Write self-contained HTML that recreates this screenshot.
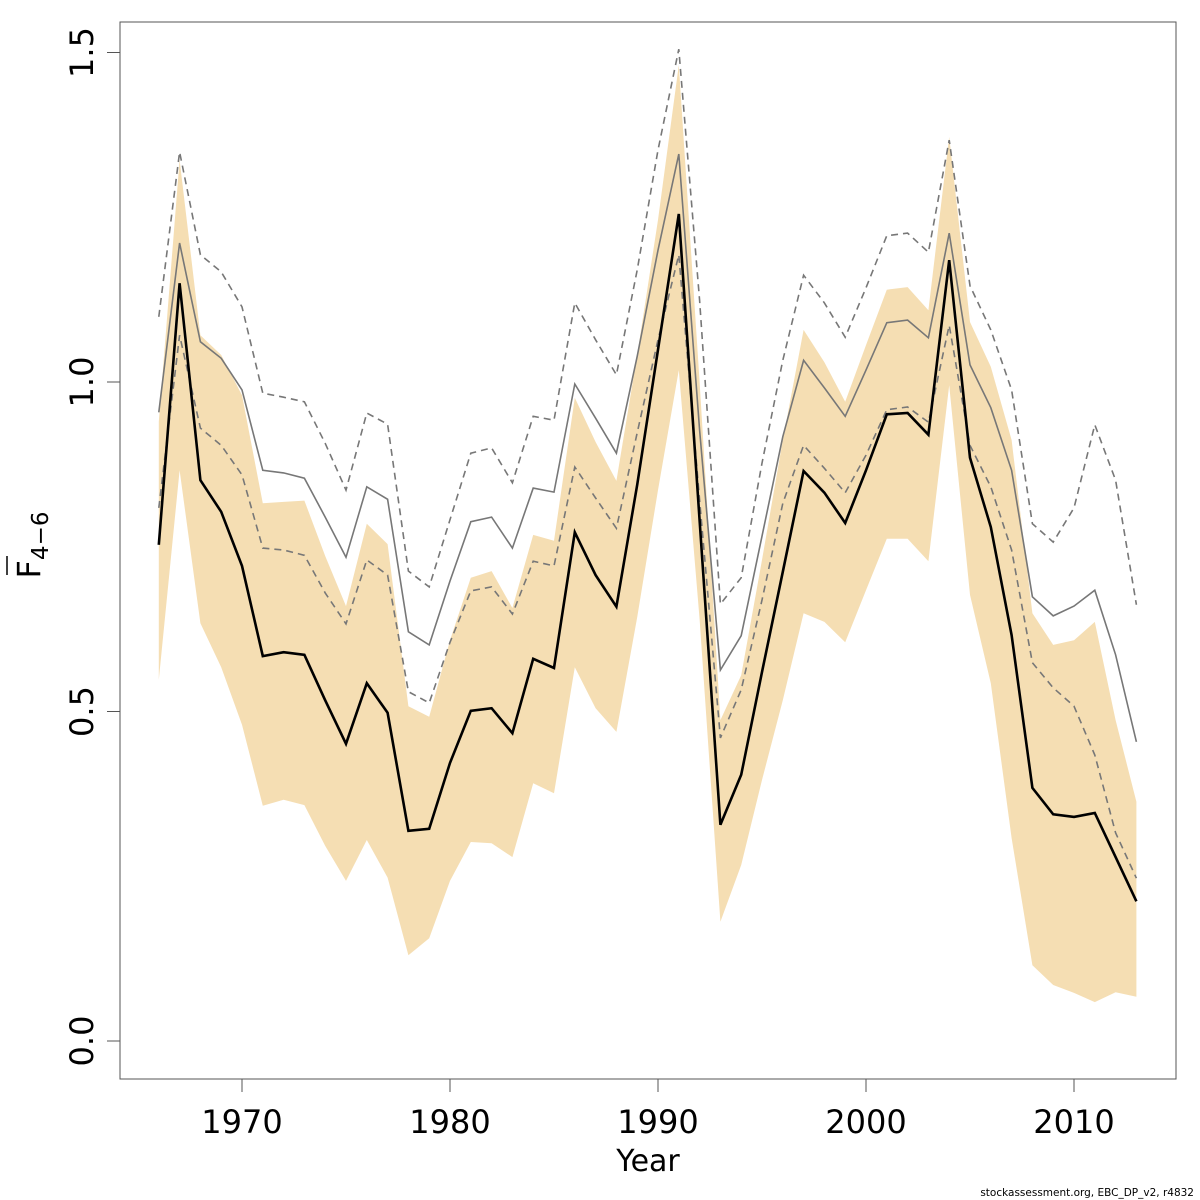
<!DOCTYPE html>
<html><head><meta charset="utf-8"><style>
html,body{margin:0;padding:0;background:#fff;}
svg{display:block;font-family:"DejaVu Sans","Liberation Sans",sans-serif;}
</style></head><body>
<svg id="chart" width="1200" height="1200" viewBox="0 0 1200 1200" xmlns="http://www.w3.org/2000/svg">
<rect x="0" y="0" width="1200" height="1200" fill="#fff"/>
<g id="marks"></g>
<rect x="120" y="22" width="1056" height="1057" fill="none" stroke="#555" stroke-width="1"/>
<g id="axes"></g>
<g transform="translate(40,545) rotate(-90)">
<text x="0" y="0" font-size="32" text-anchor="middle">F<tspan font-size="23" dy="8">4−6</tspan></text>
<line x1="-30" y1="-33" x2="-11" y2="-33" stroke="#000" stroke-width="1.5"/>
</g>
<text x="648" y="1171" font-size="30" text-anchor="middle">Year</text>
<text x="1194" y="1196" font-size="10.5" text-anchor="end">stockassessment.org, EBC_DP_v2, r4832</text>
</svg>
<script>
const years = [];
for (let y = 1966; y <= 2013; y++) years.push(y);
const estimate = [0.753,1.150,0.851,0.803,0.721,0.584,0.590,0.586,0.517,0.451,0.543,0.498,0.319,0.322,0.422,0.501,0.505,0.467,0.580,0.566,0.772,0.707,0.659,0.844,1.049,1.255,0.790,0.328,0.404,0.560,0.712,0.865,0.832,0.786,0.866,0.951,0.953,0.920,1.185,0.885,0.780,0.616,0.384,0.344,0.340,0.346,0.279,0.212];
const bandUpper = [0.940,1.337,1.071,1.041,0.980,0.816,0.818,0.820,0.736,0.660,0.785,0.754,0.508,0.492,0.608,0.703,0.713,0.657,0.768,0.759,0.976,0.909,0.850,1.041,1.246,1.481,1.000,0.487,0.555,0.730,0.912,1.079,1.030,0.970,1.056,1.140,1.144,1.109,1.372,1.091,1.023,0.912,0.649,0.601,0.608,0.636,0.487,0.363];
const bandLower = [0.548,0.866,0.634,0.567,0.480,0.357,0.366,0.358,0.296,0.243,0.305,0.248,0.130,0.156,0.243,0.302,0.300,0.279,0.391,0.376,0.567,0.505,0.469,0.643,0.836,1.018,0.640,0.181,0.267,0.396,0.517,0.649,0.636,0.605,0.684,0.762,0.762,0.728,0.995,0.677,0.543,0.308,0.115,0.085,0.073,0.059,0.074,0.067];
const compMid = [0.954,1.211,1.061,1.036,0.988,0.866,0.862,0.854,0.795,0.734,0.841,0.822,0.621,0.601,0.698,0.788,0.795,0.748,0.839,0.833,0.997,0.945,0.892,1.039,1.200,1.346,0.927,0.563,0.615,0.766,0.917,1.033,0.991,0.948,1.018,1.090,1.094,1.067,1.226,1.026,0.961,0.866,0.674,0.645,0.660,0.684,0.586,0.454];
const compUpper = [1.099,1.349,1.193,1.167,1.114,0.983,0.977,0.970,0.907,0.836,0.953,0.936,0.713,0.689,0.791,0.892,0.900,0.847,0.948,0.942,1.120,1.064,1.011,1.170,1.352,1.505,1.124,0.663,0.703,0.877,1.033,1.162,1.120,1.068,1.143,1.222,1.226,1.197,1.367,1.146,1.079,0.988,0.785,0.757,0.809,0.935,0.851,0.662];
const compLower = [0.809,1.071,0.930,0.904,0.859,0.748,0.745,0.737,0.680,0.633,0.730,0.707,0.530,0.513,0.605,0.683,0.689,0.648,0.728,0.721,0.871,0.824,0.778,0.923,1.064,1.193,0.821,0.460,0.533,0.669,0.816,0.904,0.869,0.832,0.889,0.958,0.962,0.939,1.086,0.904,0.841,0.745,0.574,0.536,0.508,0.434,0.316,0.247];
const xTicks = [1970,1980,1990,2000,2010];
const yTicks = [0.0,0.5,1.0,1.5];
const yTickLabels = ["0.0","0.5","1.0","1.5"];

function sx(yr){ return 242 + (yr-1970)*20.8; }
function sy(v){ return 1041 - v*659; }
const NS = "http://www.w3.org/2000/svg";
const marks = document.getElementById('marks');
const axes = document.getElementById('axes');
function mk(tag, attrs, parent){ const e = document.createElementNS(NS, tag); for (const k in attrs) e.setAttribute(k, attrs[k]); parent.appendChild(e); return e; }
function pts(arr){ return arr.map((v,i)=>sx(years[i]).toFixed(1)+','+sy(v).toFixed(1)).join(' '); }

const bandPts = years.map((y,i)=>sx(y).toFixed(1)+','+sy(bandUpper[i]).toFixed(1))
  .concat(years.slice().reverse().map((y,j)=>{const i=years.length-1-j;return sx(y).toFixed(1)+','+sy(bandLower[i]).toFixed(1);})).join(' ');
const band = mk('polygon', {points: bandPts, fill:'#f5deb3', stroke:'none'}, marks);



const lu = mk('polyline', {points: pts(compUpper), fill:'none', stroke:'#777', 'stroke-width':1.6, 'stroke-dasharray':'7,5'}, marks);


const ll = mk('polyline', {points: pts(compLower), fill:'none', stroke:'#777', 'stroke-width':1.6, 'stroke-dasharray':'7,5'}, marks);


const lm = mk('polyline', {points: pts(compMid), fill:'none', stroke:'#777', 'stroke-width':1.6}, marks);


const le = mk('polyline', {points: pts(estimate), fill:'none', stroke:'#000', 'stroke-width':2.6}, marks);



xTicks.forEach(t=>{
  const g = mk('g', {}, axes);
  
  
  mk('line', {x1:sx(t), x2:sx(t), y1:1079, y2:1092, stroke:'#555', 'stroke-width':1}, g);
  const tx = mk('text', {x:sx(t), y:1133, 'font-size':32, 'text-anchor':'middle'}, g);
  tx.textContent = t;
});
yTicks.forEach((t,i)=>{
  const g = mk('g', {}, axes);
  
  
  mk('line', {x1:107, x2:120, y1:sy(t), y2:sy(t), stroke:'#555', 'stroke-width':1}, g);
  const tx = mk('text', {x:0, y:0, 'font-size':32, 'text-anchor':'middle', transform:'translate(93,'+sy(t)+') rotate(-90)'}, g);
  tx.textContent = yTickLabels[i];
});
</script>
</body></html>
